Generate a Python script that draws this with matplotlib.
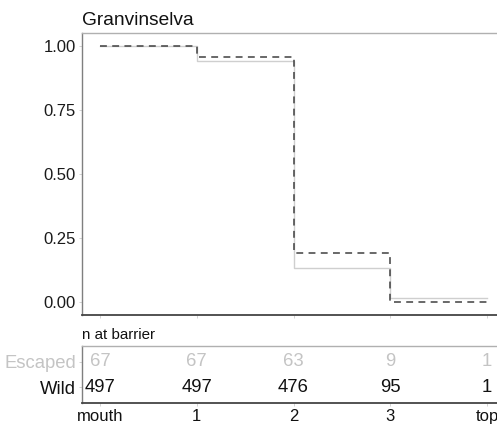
import numpy as np
import matplotlib.pyplot as plt

plt.rcParams['font.family'] = ['Liberation Sans', 'DejaVu Sans']

# barrier positions and labels
barriers = [0, 1, 2, 3, 4]
barrier_labels = ['mouth', '1', '2', '3', 'top']

# number of fish reaching each barrier
n_escaped = [67, 67, 63, 9, 1]
n_wild = [497, 497, 476, 95, 1]

# proportion remaining
p_escaped = np.array(n_escaped) / n_escaped[0]
p_wild = np.array(n_wild) / n_wild[0]

grey_txt = '#c4c4c4'
frame = '#7f7f7f'

fig = plt.figure(figsize=(4.97, 4.28), dpi=100)
ax = fig.add_axes([82/497, 1-315/428, 423/497, 282/428])
ax.step(barriers, p_escaped, where='pre', color='#cfcfcf', lw=1.0)
ax.step(barriers, p_wild, where='pre', color='#404040', lw=1.1,
        linestyle=(0, (4.5, 3.5)))
ax.set_xlim(-0.186, 4.186)
ax.set_ylim(-0.05, 1.05)
ax.set_yticks([0, 0.25, 0.5, 0.75, 1.0])
ax.set_yticklabels(['0.00', '0.25', '0.50', '0.75', '1.00'])
ax.set_xticks(barriers)
ax.set_xticklabels([])
ax.tick_params(axis='both', length=2.5, width=0.6, color='#cccccc',
               labelsize=12, labelcolor='#1a1a1a', pad=2)
for s in ax.spines.values():
    s.set_color('#b0b0b0')
    s.set_linewidth(1.0)
ax.spines['left'].set_color(frame)
ax.spines['bottom'].set_color('#444444')
ax.spines['bottom'].set_linewidth(1.3)
ax.set_title('Granvinselva', loc='left', fontsize=13.8, pad=6, color='#111111')

# risk table
tab = fig.add_axes([82/497, 1-403/428, 423/497, 57/428])
tab.set_xlim(-0.186, 4.186)
tab.set_ylim(0.36, 2.64)
for x, a, b in zip(barriers, n_escaped, n_wild):
    tab.text(x, 2, str(a), ha='center', va='center', fontsize=13.3, color=grey_txt)
    tab.text(x, 1, str(b), ha='center', va='center', fontsize=13.3, color='#111111')
tab.set_yticks([2, 1])
tab.set_yticklabels(['Escaped', 'Wild'], fontsize=13.3)
tab.get_yticklabels()[0].set_color(grey_txt)
tab.get_yticklabels()[1].set_color('#111111')
tab.set_xticks(barriers)
tab.set_xticklabels(barrier_labels, fontsize=12, color='#111111')
tab.tick_params(axis='both', length=2.5, width=0.6, color='#cccccc', pad=2)
for s in tab.spines.values():
    s.set_color('#b0b0b0')
    s.set_linewidth(1.0)
tab.spines['left'].set_color(frame)
tab.spines['bottom'].set_color('#444444')
tab.spines['bottom'].set_linewidth(1.3)
tab.set_title('n at barrier', loc='left', fontsize=10.9, pad=5, color='#111111')

fig.savefig('out.png', dpi=100)
